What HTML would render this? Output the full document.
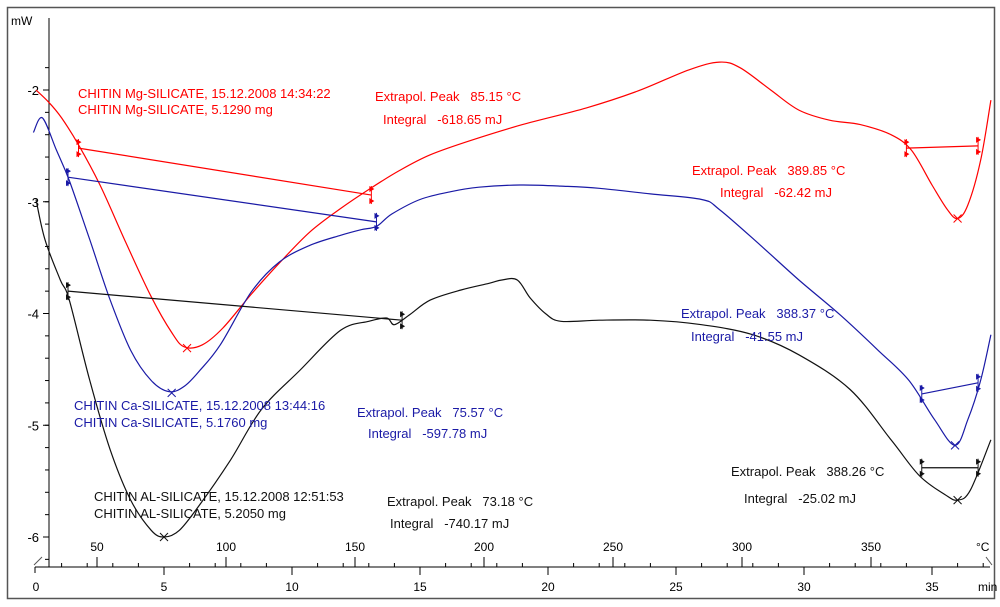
<!DOCTYPE html>
<html><head><meta charset="utf-8"><style>
html,body{margin:0;padding:0;background:#fff;}
svg{display:block;font-family:"Liberation Sans",sans-serif;}
text{white-space:pre;}
</style></head><body>
<svg id="chart" width="1000" height="607" viewBox="0 0 1000 607">
<rect x="7.5" y="7.5" width="987" height="591" fill="#fff" stroke="#555" stroke-width="1.5"/>
<g id="axes"></g>
<g id="series"></g>
<g id="labels" font-size="13" xml:space="preserve">
<text x="78" y="98" fill="#f00">CHITIN Mg-SILICATE, 15.12.2008 14:34:22</text>
<text x="78" y="114" fill="#f00">CHITIN Mg-SILICATE, 5.1290 mg</text>
<text x="375" y="101" fill="#f00">Extrapol. Peak   85.15 °C</text>
<text x="383" y="124" fill="#f00">Integral   -618.65 mJ</text>
<text x="692" y="175" fill="#f00">Extrapol. Peak   389.85 °C</text>
<text x="720" y="197" fill="#f00">Integral   -62.42 mJ</text>
<text x="74" y="410" fill="#1a1aa6">CHITIN Ca-SILICATE, 15.12.2008 13:44:16</text>
<text x="74" y="427" fill="#1a1aa6">CHITIN Ca-SILICATE, 5.1760 mg</text>
<text x="357" y="417" fill="#1a1aa6">Extrapol. Peak   75.57 °C</text>
<text x="368" y="438" fill="#1a1aa6">Integral   -597.78 mJ</text>
<text x="681" y="318" fill="#1a1aa6">Extrapol. Peak   388.37 °C</text>
<text x="691" y="341" fill="#1a1aa6">Integral   -41.55 mJ</text>
<text x="94" y="501" fill="#111">CHITIN AL-SILICATE, 15.12.2008 12:51:53</text>
<text x="94" y="518" fill="#111">CHITIN AL-SILICATE, 5.2050 mg</text>
<text x="387" y="506" fill="#111">Extrapol. Peak   73.18 °C</text>
<text x="390" y="528" fill="#111">Integral   -740.17 mJ</text>
<text x="731" y="476" fill="#111">Extrapol. Peak   388.26 °C</text>
<text x="744" y="503" fill="#111">Integral   -25.02 mJ</text>
</g>
</svg>
<script>
const yTicks=[-2,-3,-4,-5,-6];
const minTicks=[0,5,10,15,20,25,30,35];
const degTicks=[50,100,150,200,250,300,350];
const redT=[0,0.5,1,1.66,2.5,3.5,4.5,5.3,5.8,6.5,7.3,8.4,9.5,10.7,11.9,13,14.2,15.4,17,19,21.5,23.5,25.5,26.7,27.5,28.7,29.8,31,32.2,33.4,34.2,35,35.6,36,36.4,36.9,37.3];
const redV=[-2.0,-2.11,-2.25,-2.49,-2.85,-3.36,-3.85,-4.17,-4.3,-4.28,-4.13,-3.83,-3.55,-3.27,-3.06,-2.89,-2.72,-2.58,-2.45,-2.31,-2.16,-2.01,-1.82,-1.75,-1.8,-2.0,-2.18,-2.27,-2.31,-2.4,-2.54,-2.85,-3.07,-3.15,-3.03,-2.63,-2.09];
const blueT=[-0.1,0.25,0.8,1.3,2.1,2.9,3.7,4.5,5.2,5.8,6.4,7.2,8.4,9.5,10.7,11.9,12.7,13.3,13.9,15,16.2,17.3,18.9,20.5,22,24,26,26.7,28.3,29.8,31.4,32.9,34.1,35.1,35.9,36.4,36.9,37.3];
const blueV=[-2.38,-2.25,-2.54,-2.81,-3.34,-3.88,-4.33,-4.6,-4.7,-4.65,-4.51,-4.28,-3.81,-3.54,-3.39,-3.3,-3.25,-3.22,-3.11,-2.98,-2.91,-2.87,-2.85,-2.86,-2.88,-2.93,-2.98,-3.07,-3.39,-3.7,-4.01,-4.33,-4.6,-4.95,-5.18,-4.95,-4.6,-4.19];
const blackT=[0,0.35,0.95,1.3,2.1,2.9,3.7,4.5,5,5.6,6.4,7.6,8.8,10.3,11.9,13,13.7,14,14.6,15.4,16.6,17.7,18.2,18.8,19.3,19.9,20.5,22,24,26,28,29.8,31.8,33.4,34.5,35.5,36,36.5,37.3];
const blackV=[-2.98,-3.34,-3.7,-3.88,-4.6,-5.22,-5.67,-5.94,-6.0,-5.94,-5.71,-5.31,-4.86,-4.51,-4.15,-4.07,-4.04,-4.1,-4.01,-3.88,-3.79,-3.73,-3.7,-3.7,-3.86,-4.0,-4.07,-4.06,-4.06,-4.1,-4.19,-4.37,-4.68,-5.13,-5.45,-5.62,-5.67,-5.58,-5.13];
const redBase=[[1.66,-2.52,13.1,-2.94],[34,-2.52,36.8,-2.5]];
const blueBase=[[1.25,-2.78,13.3,-3.18],[34.6,-4.72,36.8,-4.62]];
const blackBase=[[1.25,-3.8,14.3,-4.06],[34.6,-5.38,36.8,-5.38]];
const redPeaks=[[5.9,-4.31],[36,-3.15]];
const bluePeaks=[[5.3,-4.71],[35.9,-5.18]];
const blackPeaks=[[5,-6.0],[36,-5.67]];

const NS="http://www.w3.org/2000/svg";
const X=t=>36+25.6*t;
const Y=v=>90+111.75*(-2-v);
const XD=c=>-32+2.58*c;
const axes=document.getElementById('axes'), ser=document.getElementById('series');
function mk(tag,attrs,parent){const e=document.createElementNS(NS,tag);for(const k in attrs)e.setAttribute(k,attrs[k]);parent.appendChild(e);return e;}
function smooth(P){let d='M'+P[0][0].toFixed(1)+','+P[0][1].toFixed(1);
 for(let i=0;i<P.length-1;i++){const p0=P[Math.max(0,i-1)],p1=P[i],p2=P[i+1],p3=P[Math.min(P.length-1,i+2)];
  const c1=[p1[0]+(p2[0]-p0[0])/6,p1[1]+(p2[1]-p0[1])/6],c2=[p2[0]-(p3[0]-p1[0])/6,p2[1]-(p3[1]-p1[1])/6];
  d+=` C${c1[0].toFixed(1)},${c1[1].toFixed(1)} ${c2[0].toFixed(1)},${c2[1].toFixed(1)} ${p2[0].toFixed(1)},${p2[1].toFixed(1)}`;}
 return d;}
let ya=mk('line',{x1:49,y1:18,x2:49,y2:567,stroke:'#000'},axes);


for(let v=-1.8;v>=-6.21;v-=0.2){const y=Y(v);mk('line',{x1:45,y1:y,x2:49,y2:y,stroke:'#000'},axes);}
yTicks.forEach(v=>{const y=Y(v);mk('line',{x1:43,y1:y,x2:49,y2:y,stroke:'#000'},axes);
 const t=mk('text',{x:39,y:y+5,'text-anchor':'end','font-size':13,fill:'#000'},axes);t.textContent=String(v);
 
 });
let yt=mk('text',{x:11,y:25,'font-size':12,fill:'#000'},axes);yt.textContent='mW';


let xa=mk('line',{x1:35,y1:567,x2:990,y2:567,stroke:'#000'},axes);


mk('line',{x1:35,y1:567,x2:35,y2:573,stroke:'#000'},axes);
mk('line',{x1:34,y1:565,x2:42,y2:557,stroke:'#555'},axes);
mk('line',{x1:986,y1:557,x2:992,y2:565,stroke:'#555'},axes);
for(let t=1;t<=37;t++){mk('line',{x1:X(t),y1:567,x2:X(t),y2:t%5==0?575:563,stroke:'#000'},axes);}
minTicks.forEach(t=>{const e=mk('text',{x:X(t),y:591,'text-anchor':'middle','font-size':12,fill:'#000'},axes);e.textContent=String(t);
 
 });
let mu=mk('text',{x:978,y:591,'font-size':12,fill:'#000'},axes);mu.textContent='min';


degTicks.forEach(c=>{mk('line',{x1:XD(c),y1:567,x2:XD(c),y2:557,stroke:'#000'},axes);
 const e=mk('text',{x:XD(c),y:551,'text-anchor':'middle','font-size':12,fill:'#000'},axes);e.textContent=String(c);
 
 });
let cu=mk('text',{x:976,y:551,'font-size':12,fill:'#000'},axes);cu.textContent='°C';


function series(T,V,base,peaks,col,name){
 const g=mk('g',{},ser);
 
 
 const P=T.map((t,i)=>[X(t),Y(V[i])]);
 const p=mk('path',{d:smooth(P),fill:'none',stroke:col,'stroke-width':1.2},g);
 
 
 base.forEach(b=>{const l=mk('line',{x1:X(b[0]),y1:Y(b[1]),x2:X(b[2]),y2:Y(b[3]),stroke:col,'stroke-width':1.2},g);
  
  
  [[b[0],b[1]],[b[2],b[3]]].forEach(q=>{const x=X(q[0]),y=Y(q[1]);
   mk('path',{d:`M${x-2},${y-9}L${x+3},${y-6}L${x-2},${y-3}Z M${x-2},${y+3}L${x+3},${y+6}L${x-2},${y+9}Z`,fill:col},g);
   mk('line',{x1:x,y1:y-9,x2:x,y2:y+9,stroke:col},g);});});
 peaks.forEach(pk=>{const x=X(pk[0]),y=Y(pk[1]);
  const m=mk('path',{d:`M${x-4},${y-4}L${x+4},${y+4}M${x-4},${y+4}L${x+4},${y-4}`,stroke:col,'stroke-width':1},g);
  
  });
}
series(redT,redV,redBase,redPeaks,'#f00','mg-silicate');
series(blueT,blueV,blueBase,bluePeaks,'#1a1aa6','ca-silicate');
series(blackT,blackV,blackBase,blackPeaks,'#111','al-silicate');
</script>
</body></html>
